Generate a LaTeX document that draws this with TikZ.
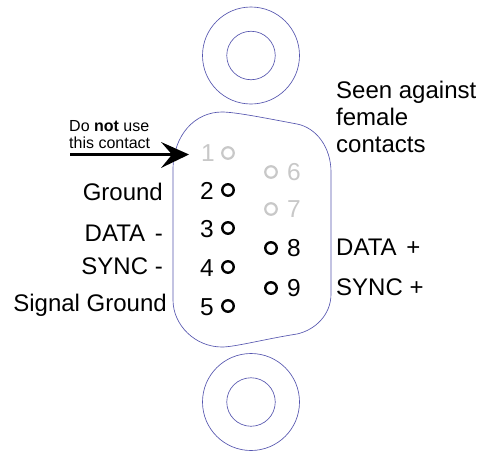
\documentclass[tikz,border=0pt]{standalone}
\usepackage{fontspec}
\setmainfont{Liberation Sans}
\definecolor{shell}{RGB}{85,85,175}
\definecolor{off}{RGB}{200,200,200}
\tikzset{
  x=1pt,y=-1pt,
  shellline/.style={draw=shell,line width=0.65pt},
  lbl/.style={inner sep=0pt,font=\fontsize{24}{27}\selectfont,text=black},
  lblr/.style={lbl,anchor=base east},
  lbll/.style={lbl,anchor=base west},
  num/.style={lbl,font=\fontsize{24.5}{27}\selectfont},
  numoff/.style={num,text=off},
  pin/.style={circle,draw=black,line width=2.4pt,minimum size=11.5pt,inner sep=0pt},
  pinoff/.style={pin,draw=off,line width=2.2pt},
  small/.style={inner sep=0pt,align=left,anchor=base west,font=\fontsize{16}{17}\selectfont},
}
\begin{document}
\begin{tikzpicture}
\useasboundingbox (0,0) rectangle (482,450);
\fill[white] (0,0) rectangle (482,450);
% flanges
\node[circle,shellline,minimum size=97pt,inner sep=0pt] (topouter) at (251,55.5) {};
\node[circle,shellline,minimum size=48.5pt,inner sep=0pt] (topinner) at (251,55.5) {};
\node[circle,shellline,minimum size=97pt,inner sep=0pt] (botouter) at (251,402) {};
\node[circle,shellline,minimum size=48.5pt,inner sep=0pt] (botinner) at (251,402) {};
% shell
\draw[shellline] (173,170) .. controls (173,135) and (195,112) .. (222,112)
  .. controls (235,112) and (265,118) .. (297,124)
  .. controls (317,128) and (331,148) .. (331,172)
  -- (331,294)
  .. controls (331,315) and (315,330) .. (297,334)
  .. controls (265,339) and (235,347) .. (222,347)
  .. controls (195,347) and (173,325) .. (173,300) -- cycle;
% pins
\node[pinoff] (p1) at (228,153) {};
\node[pin] (p2) at (228,190) {};
\node[pin] (p3) at (228,228) {};
\node[pin] (p4) at (228,267) {};
\node[pin] (p5) at (228,306) {};
\node[pinoff] (p6) at (271,172) {};
\node[pinoff] (p7) at (271,209) {};
\node[pin] (p8) at (271,248) {};
\node[pin] (p9) at (271,288) {};
% numbers
\node[numoff] (n1) at (208,153) {1};
\node[num] (n2) at (207,191) {2};
\node[num] (n3) at (207,229) {3};
\node[num] (n4) at (207,268) {4};
\node[num] (n5) at (207,307) {5};
\node[numoff] (n6) at (294,172) {6};
\node[numoff] (n7) at (294,209) {7};
\node[num] (n8) at (294,248) {8};
\node[num] (n9) at (294,288) {9};
% labels
\node[lblr] (l2) at (163,200) {Ground};
\node[lblr] (l3) at (163,241) {DATA\hspace{3pt} -};
\node[lblr] (l4) at (163,274) {SYNC -};
\node[lblr] (l5) at (167,311) {Signal Ground};
\node[lbll] (l8) at (336,255) {DATA\hspace{3pt} +};
\node[lbll] (l9) at (336,295) {SYNC +};
\node[lbl,align=left,anchor=base west] (seen) at (336,152) {Seen against\\female\\contacts};
\node[small] (note) at (69,148) {Do \textbf{not} use\\this contact};
% arrow
\coordinate (tail) at (70,154.5);
\coordinate (tip) at (189,154.5);
\fill[black] (tip) -- (161,142) -- (172,154.5) -- (161,168) -- cycle;
\draw[black,line width=2.8pt] (tail) -- (173,154.5);
\end{tikzpicture}
\end{document}
